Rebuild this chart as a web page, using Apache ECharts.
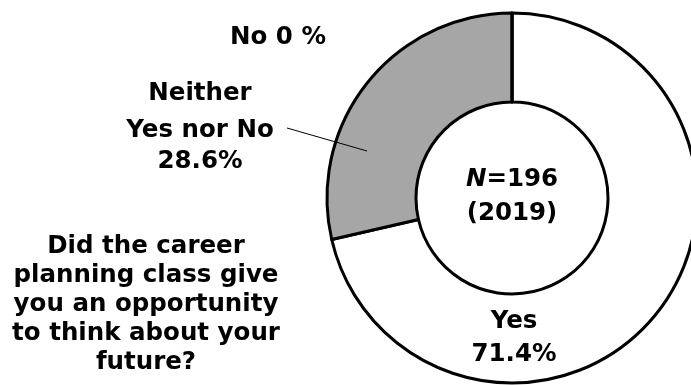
<!DOCTYPE html>
<html>
<head>
<meta charset="utf-8">
<script src="https://cdn.jsdelivr.net/npm/echarts@6/dist/echarts.min.js"></script>
<style>
  html, body { margin: 0; padding: 0; background: #fff; }
  #chart { width: 691px; height: 385px; }
</style>
</head>
<body>
<div id="chart"></div>
<script>
// Survey answers (percent of respondents)
const categories = ['Yes', 'Neither Yes nor No', 'No'];
const values = [71.4, 28.6, 0];
const sliceColors = ['#ffffff', '#a6a6a6', '#ffffff'];
const sampleSize = 196;
const surveyYear = 2019;
const question = ['Did the career', 'planning class give', 'you an opportunity', 'to think about your', 'future?'];

const FONT = "'DejaVu Sans', 'Liberation Sans', Arial, sans-serif";
const FS = 24.5;
const CX = 512, CY = 198;
const R_IN = 96, R_OUT = 185;

// label text for each slice
function labelText(i) {
  const v = values[i];
  if (i === 0) return '{y1|' + categories[0] + '}\n{y2|' + v.toFixed(1) + '%}';
  if (i === 1) return '{n1|Neither}\n{n2|Yes nor No}\n{n3|' + v.toFixed(1) + '%}';
  return '{z|' + categories[2] + ' ' + v + ' %}';
}

const base = { fontFamily: FONT, fontWeight: 'bold', fontSize: FS, color: '#000' };
const pieData = (withStyle) => categories.map((c, i) => ({
  name: c,
  value: values[i],
  itemStyle: withStyle ? { color: sliceColors[i] } : { color: 'rgba(0,0,0,0)', borderWidth: 0 },
  labelLine: i === 1 ? { show: true, lineStyle: { color: '#000', width: 1 } } : { show: false }
}));

const chart = echarts.init(document.getElementById('chart'), null, { renderer: 'canvas' });
chart.setOption({
  backgroundColor: '#fff',
  animation: false,
  series: [
    {
      // ring
      type: 'pie',
      z: 2,
      silent: true,
      center: [CX, CY],
      radius: [R_IN, R_OUT],
      startAngle: 90,
      clockwise: true,
      itemStyle: { borderColor: '#000', borderWidth: 3 },
      label: { show: false },
      labelLine: { show: false },
      data: pieData(true).map(d => Object.assign(d, { labelLine: { show: false } }))
    },
    {
      // labels and leader line, drawn above the ring
      type: 'pie',
      z: 5,
      silent: true,
      center: [CX, CY],
      radius: [R_IN, R_OUT],
      startAngle: 90,
      clockwise: true,
      avoidLabelOverlap: false,
      label: {
        show: true,
        formatter: p => labelText(p.dataIndex),
        rich: {
          y1: Object.assign({ lineHeight: 33 }, base),
          y2: Object.assign({ lineHeight: 33 }, base),
          n1: Object.assign({ lineHeight: 40 }, base),
          n2: Object.assign({ lineHeight: 34 }, base),
          n3: Object.assign({ lineHeight: 28 }, base),
          z: Object.assign({ lineHeight: 30 }, base)
        }
      },
      labelLayout: function (p) {
        if (p.dataIndex === 0) {
          return { x: CX + 2, y: CY + 140, align: 'center', verticalAlign: 'middle' };
        }
        if (p.dataIndex === 1) {
          return {
            x: CX - 312, y: CY - 73, align: 'center', verticalAlign: 'middle',
            labelLinePoints: [[CX - 145, CY - 47], [CX - 185, CY - 58.5], [CX - 225, CY - 70]]
          };
        }
        return { x: CX - 234, y: CY - 160, align: 'center', verticalAlign: 'middle' };
      },
      data: pieData(false)
    }
  ],
  graphic: [
    {
      type: 'text',
      x: CX, y: CY - 1,
      style: {
        text: '{i|N}{t|=' + sampleSize + '}\n{t|(' + surveyYear + ')}',
        align: 'center', verticalAlign: 'middle',
        rich: {
          i: Object.assign({}, base, { fontStyle: 'italic', lineHeight: 34 }),
          t: Object.assign({}, base, { lineHeight: 34 })
        }
      }
    },
    {
      type: 'text',
      x: 146, y: 305,
      style: {
        text: question.join('\n'),
        align: 'center', verticalAlign: 'middle',
        font: 'bold ' + FS + 'px ' + FONT,
        lineHeight: 29,
        fill: '#000'
      }
    }
  ]
});
</script>
</body>
</html>
